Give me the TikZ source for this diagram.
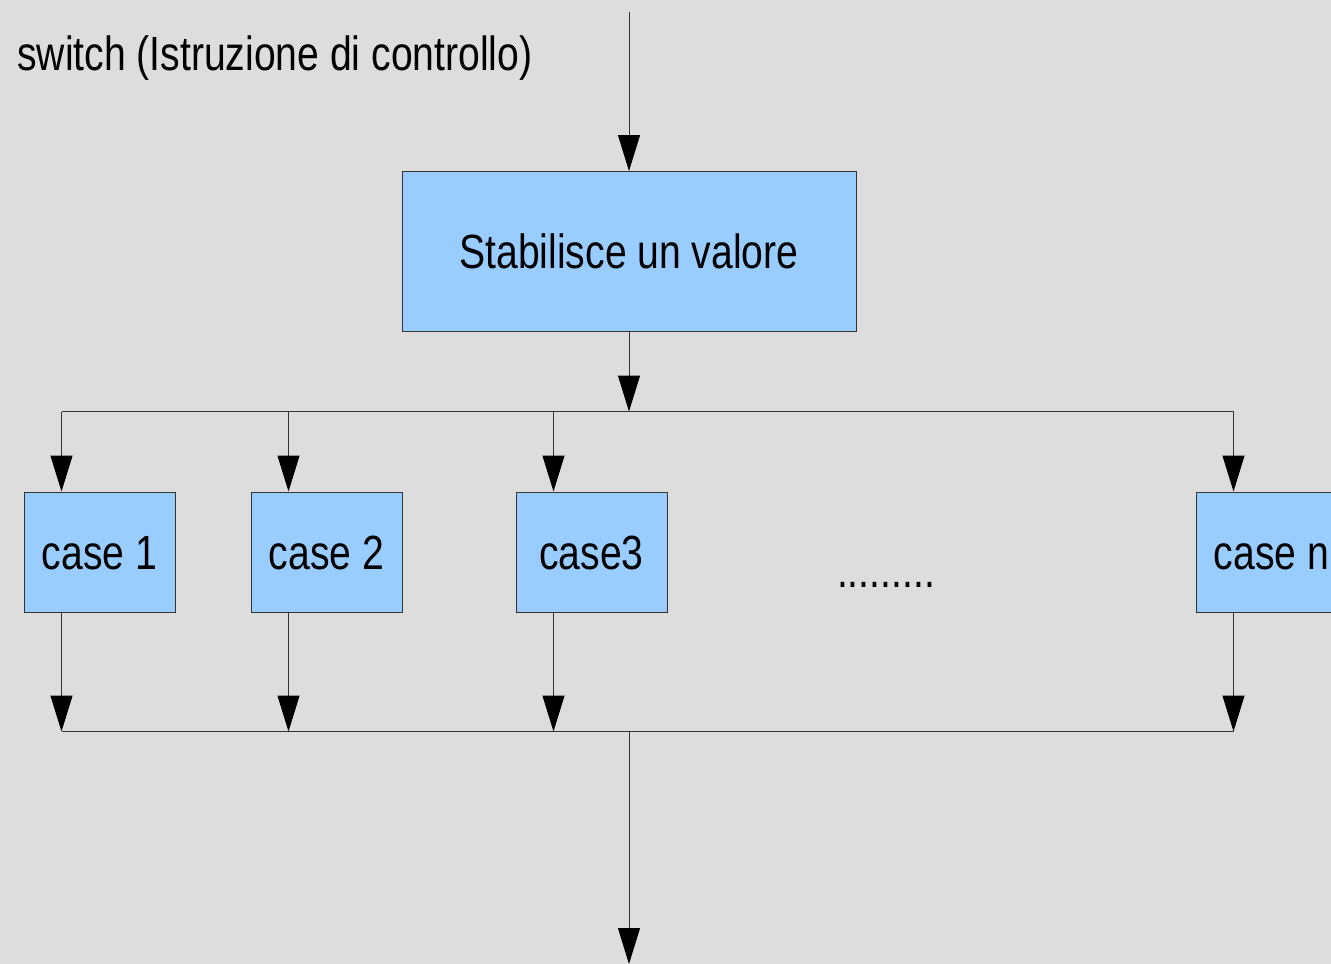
\documentclass[tikz,border=0pt]{standalone}
\usepackage{fontspec}
\setmainfont[FakeStretch=0.815]{Liberation Sans}
\usetikzlibrary{arrows.meta,calc}
\definecolor{bg}{HTML}{DDDDDD}
\definecolor{boxfill}{HTML}{99CCFF}
\definecolor{ln}{HTML}{333333}
\tikzset{
  box/.style={draw=ln, line width=1pt, fill=boxfill, rectangle, inner sep=0pt,
    font=\fontsize{48}{56}\selectfont, text=black},
  casebox/.style={box, minimum width=151pt, minimum height=120pt, text height=34.5pt, text depth=0pt},
  conn/.style={draw=ln, line width=1pt},
  arr/.style={conn, -{Triangle[length=36pt,width=22pt,fill=black,color=black]}},
  lbl/.style={font=\fontsize{48}{56}\selectfont, text=black, inner sep=0pt}
}
\begin{document}
\begin{tikzpicture}[x=1pt,y=-1pt]
\fill[bg] (0,0) rectangle (1331,964);
\useasboundingbox (0,0) rectangle (1331,964);

\node[lbl, anchor=base west] (title) at (17,70) {switch (Istruzione di controllo)};

\coordinate (start) at (629,12);
\node[box, minimum width=454pt, minimum height=160pt] (val) at (629,251.5) {Stabilisce un valore};

\coordinate (split) at (629,411.5);
\coordinate (join) at (629,731.5);
\coordinate (end) at (629,964);

\node[casebox] (c1) at (99.5,552) {case 1};
\node[casebox] (c2) at (326.5,552) {case 2};
\node[casebox] (c3) at (591.5,552) {case3};
\node[casebox] (cn) at (1271.5,552) {case n};

\node[lbl, anchor=base] (dots) at (886,587) {.........};

% top flow
\draw[arr] (start) -- (val.north);
\draw[arr] (val.south) -- (split);

% drop points
\foreach \c in {c1,c2,c3,cn}{
  \coordinate (\c top) at ($(\c.north west)!0.25!(\c.north east)$);
  \coordinate (\c bot) at ($(\c.south west)!0.25!(\c.south east)$);
  \coordinate (\c up) at (\c top |- split);
  \coordinate (\c dn) at (\c bot |- join);
}

\draw[conn] (c1up) -- (cnup);
\foreach \c in {c1,c2,c3,cn}{
  \draw[arr] (\c up) -- (\c top);
  \draw[arr] (\c bot) -- (\c dn);
}
\draw[conn] (c1dn) -- (cndn);
\draw[arr] (join) -- (end);
\end{tikzpicture}
\end{document}
